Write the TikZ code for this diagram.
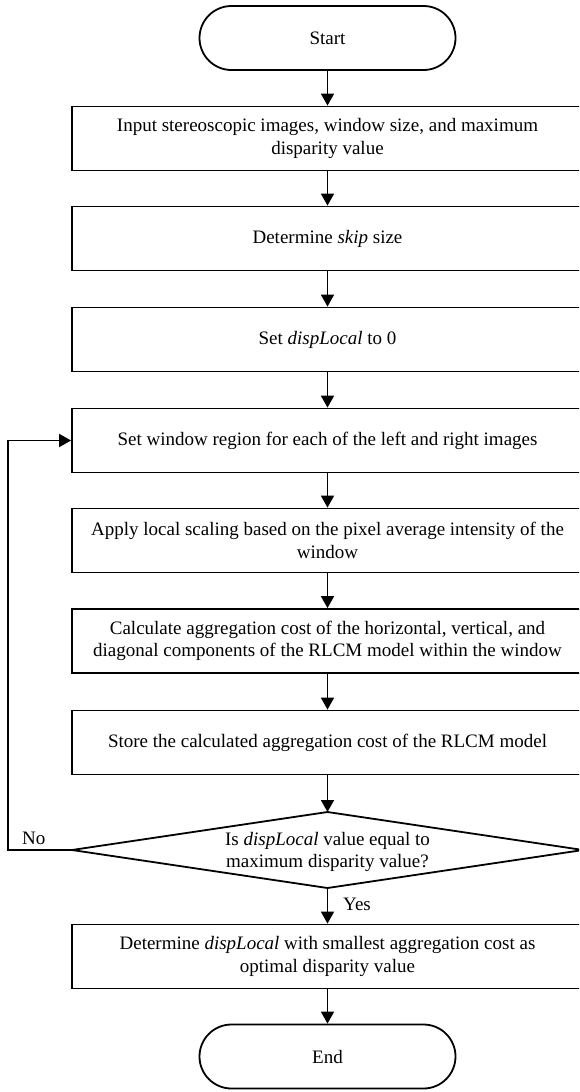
\documentclass[tikz,border=0pt]{standalone}
\usepackage{fontspec}
\setmainfont{Liberation Serif}
\usetikzlibrary{arrows.meta}
\tikzset{
  every node/.style={font=\fontsize{19}{22.5}\selectfont},
  procbox/.style={draw, line width=1.8pt, rectangle, minimum width=511pt, minimum height=64pt, align=center, inner sep=0pt},
  termbox/.style={draw, line width=1.8pt, rectangle, rounded corners=32pt, minimum width=256pt, minimum height=64pt, inner sep=0pt},
  flowarrow/.style={line width=1.8pt, -{Triangle[length=12pt,width=13pt]}},
  plainline/.style={line width=1.8pt},
  lbl/.style={inner sep=0pt}
}
\begin{document}
\begin{tikzpicture}[x=1pt,y=-1pt]
\useasboundingbox (0,0) rectangle (579,1092);
\clip (0,0) rectangle (579,1092);
\fill[white] (0,0) rectangle (579,1092);

\node[termbox] (start) at (327.5,38) {Start};
\node[procbox] (b1) at (327.5,138.5) {Input stereoscopic images, window size, and maximum\\disparity value};
\node[procbox] (b2) at (327.5,238.5) {Determine \textit{skip} size};
\node[procbox] (b3) at (327.5,339.5) {Set \textit{dispLocal} to 0};
\node[procbox] (b4) at (327.5,440.5) {Set window region for each of the left and right images};
\node[procbox] (b5) at (327.5,540.5) {Apply local scaling based on the pixel average intensity of the\\window};
\node[procbox] (b6) at (327.5,641) {Calculate aggregation cost of the horizontal, vertical, and\\diagonal components of the RLCM model within the window};
\node[procbox] (b7) at (327.5,742.5) {Store the calculated aggregation cost of the RLCM model};
\node[align=center, inner sep=0pt] (dec) at (327.5,852) {Is \textit{dispLocal} value equal to\\maximum disparity value?};
\coordinate (decT) at (327.5,812);
\coordinate (decB) at (327.5,888);
\coordinate (decL) at (72,850);
\coordinate (decR) at (583,850);
\draw[plainline, line join=miter] (decT) -- (decR) -- (decB) -- (decL) -- cycle;
\node[procbox] (b8) at (327.5,956.5) {Determine \textit{dispLocal} with smallest aggregation cost as\\optimal disparity value};
\node[termbox] (end) at (327.5,1056.5) {End};

\draw[flowarrow] (start) -- (b1);
\draw[flowarrow] (b1) -- (b2);
\draw[flowarrow] (b2) -- (b3);
\draw[flowarrow] (b3) -- (b4);
\draw[flowarrow] (b4) -- (b5);
\draw[flowarrow] (b5) -- (b6);
\draw[flowarrow] (b6) -- (b7);
\draw[flowarrow] (b7) -- (decT);
\draw[flowarrow] (decB) -- (b8);
\draw[flowarrow] (b8) -- (end);

\coordinate (loopc) at (8,850);
\draw[flowarrow] (decL) -- (loopc) |- (b4.west);

\node[lbl, anchor=west] (no) at (22,838) {No};
\node[lbl, anchor=west] (yes) at (343,904) {Yes};
\end{tikzpicture}
\end{document}
